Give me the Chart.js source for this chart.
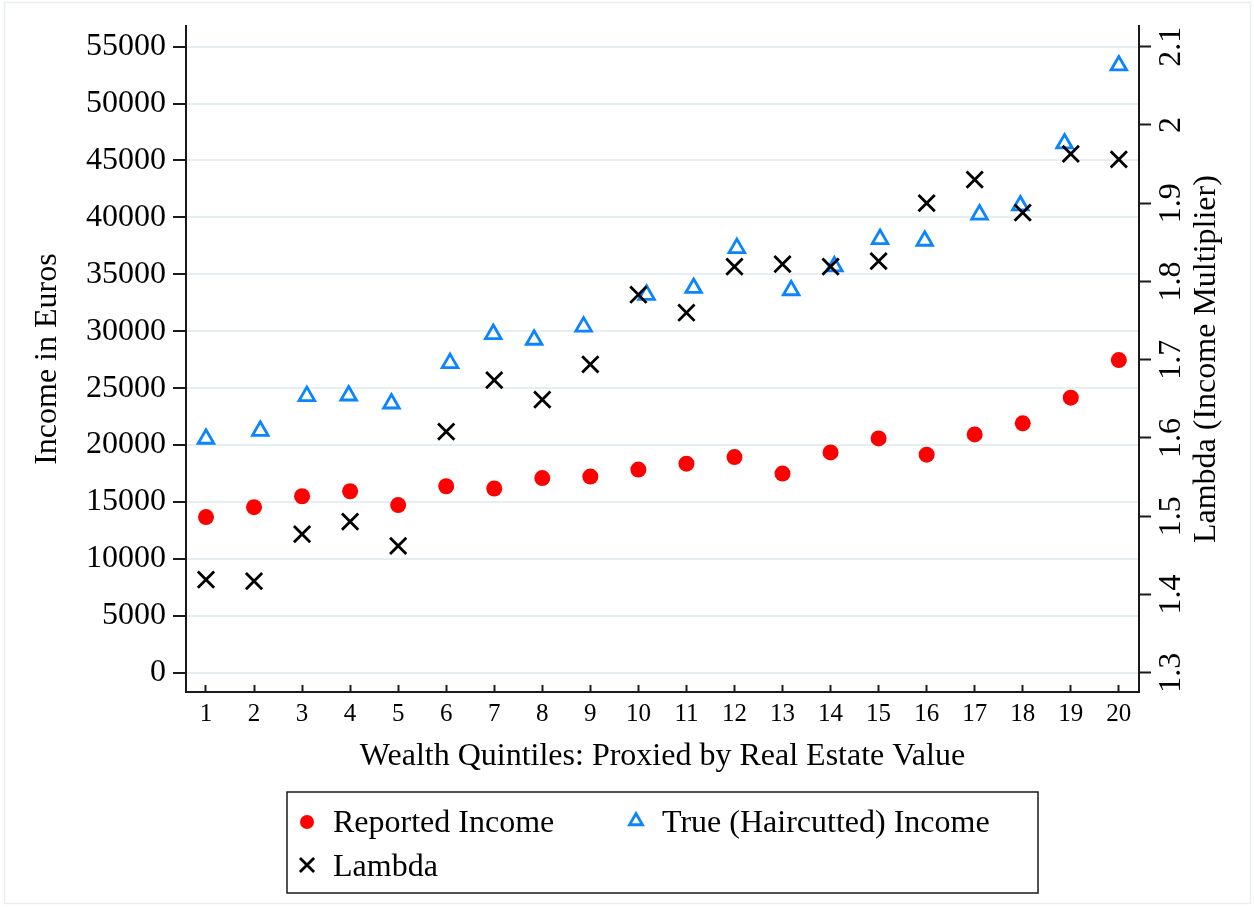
<!DOCTYPE html>
<html>
<head>
<meta charset="utf-8">
<script src="https://cdn.jsdelivr.net/npm/chart.js@4.4.1/dist/chart.umd.min.js"></script>
<style>
  html, body { margin: 0; padding: 0; background: #ffffff; }
  #wrap { width: 1254px; height: 907px; position: relative; }
</style>
</head>
<body>
<div id="wrap"><canvas id="c"></canvas></div>
<script>
// ---------------- data ----------------
const quintiles = [1, 2, 3, 4, 5, 6, 7, 8, 9, 10, 11, 12, 13, 14, 15, 16, 17, 18, 19, 20];
const quintileLabels = ['1','2','3','4','5','6','7','8','9','10','11','12','13','14','15','16','17','18','19','20'];

const reportedIncome = [13670, 14540, 15500, 15940, 14720, 16380, 16180, 17100, 17230, 17840,
                        18360, 18940, 17490, 19350, 20580, 19150, 20930, 21910, 24160, 27460];

const trueIncomeX = [1.00, 2.13, 3.10, 3.97, 4.86, 6.08, 6.98, 7.83, 8.86, 10.17,
                     11.15, 12.05, 13.18, 14.08, 15.03, 15.96, 17.10, 17.95, 18.87, 20.00];
const trueIncome = [20550, 21250, 24300, 24350, 23650, 27200, 29750, 29250, 30400, 33200,
                    33800, 37300, 33600, 35700, 38100, 37950, 40250, 41050, 46500, 53350];

const lambda = [1.419, 1.417, 1.477, 1.493, 1.462, 1.608, 1.674, 1.649, 1.694, 1.783,
                1.760, 1.819, 1.822, 1.819, 1.826, 1.900, 1.930, 1.888, 1.963, 1.956];

const incomeTicks = [0, 5000, 10000, 15000, 20000, 25000, 30000, 35000, 40000, 45000, 50000, 55000];
const incomeTickLabels = ['0','5000','10000','15000','20000','25000','30000','35000','40000','45000','50000','55000'];
const lambdaTicks = [1.3, 1.4, 1.5, 1.6, 1.7, 1.8, 1.9, 2.0, 2.1];
const lambdaTickLabels = ['1.3','1.4','1.5','1.6','1.7','1.8','1.9','2','2.1'];

const seriesNames = ['Reported Income', 'True (Haircutted) Income', 'Lambda'];
const axisTitles = {
  x: 'Wealth Quintiles: Proxied by Real Estate Value',
  y: 'Income in Euros',
  y2: 'Lambda (Income Multiplier)'
};

// ---------------- styling ----------------
const FONT = "'Liberation Serif', 'Times New Roman', serif";
const RED = '#ff0000';
const BLUE = '#0a84ff';
const BLACK = '#000000';
const AXIS = '#1a1a1a';
const GRID = '#e7eef1';

Chart.defaults.font.family = FONT;
Chart.defaults.color = '#000';

const bgPlugin = {
  id: 'bg',
  beforeDraw(chart) {
    const ctx = chart.ctx;
    ctx.save();
    ctx.fillStyle = '#ffffff';
    ctx.fillRect(0, 0, chart.width, chart.height);
    ctx.strokeStyle = '#e9eef1';
    ctx.lineWidth = 1.5;
    ctx.strokeRect(4.5, 2.5, chart.width - 8, chart.height - 6);
    ctx.restore();
  }
};

const extrasPlugin = {
  id: 'extras',
  afterDraw(chart) {
    const ctx = chart.ctx;
    const ca = chart.chartArea;
    // right axis title, reading bottom-to-top
    const s2 = chart.scales.y2;
    ctx.save();
    ctx.font = '32px ' + FONT;
    ctx.fillStyle = '#000';
    ctx.translate(s2.left + 68, (s2.top + s2.bottom) / 2);
    ctx.rotate(-Math.PI / 2);
    ctx.textAlign = 'center';
    ctx.textBaseline = 'middle';
    ctx.fillText(axisTitles.y2, 0, 0);
    ctx.restore();

    // boxed legend below the x axis
    const w = 751, h = 101;
    const x0 = (ca.left + ca.right) / 2 - w / 2;
    const y0 = chart.scales.x.bottom;
    ctx.save();
    ctx.strokeStyle = AXIS;
    ctx.lineWidth = 1.5;
    ctx.strokeRect(x0, y0, w, h);
    const slots = [[x0 + 20, y0 + 30], [x0 + 349, y0 + 29], [x0 + 20, y0 + 73]];
    chart.data.datasets.forEach((ds, i) => {
      const [mx, my] = slots[i];
      ctx.save();
      ctx.fillStyle = ds.pointBackgroundColor;
      ctx.strokeStyle = ds.pointBorderColor;
      ctx.lineWidth = ds.pointBorderWidth;
      Chart.helpers.drawPoint(ctx, {
        pointStyle: ds.pointStyle,
        radius: ds.legendRadius,
        borderWidth: ds.pointBorderWidth,
        rotation: 0
      }, mx, my);
      ctx.restore();
      ctx.font = '32px ' + FONT;
      ctx.fillStyle = '#000';
      ctx.textAlign = 'left';
      ctx.textBaseline = 'middle';
      ctx.fillText(ds.label, x0 + (i === 1 ? 375 : 46), y0 + (i === 2 ? 76 : 32));
    });
    ctx.restore();
  }
};

new Chart(document.getElementById('c'), {
  type: 'scatter',
  data: {
    datasets: [
      {
        label: seriesNames[0],
        data: quintiles.map((q, i) => ({ x: q, y: reportedIncome[i] })),
        yAxisID: 'y',
        pointStyle: 'circle',
        pointRadius: 8,
        legendRadius: 7,
        pointBorderWidth: 0,
        pointBackgroundColor: RED,
        pointBorderColor: RED,
        order: 2
      },
      {
        label: seriesNames[1],
        data: trueIncomeX.map((x, i) => ({ x: x, y: trueIncome[i] })),
        yAxisID: 'y',
        pointStyle: 'triangle',
        pointRadius: 9,
        legendRadius: 7.5,
        pointBorderWidth: 2.8,
        pointBackgroundColor: 'rgba(0,0,0,0)',
        pointBorderColor: BLUE,
        order: 1
      },
      {
        label: seriesNames[2],
        data: quintiles.map((q, i) => ({ x: q, y: lambda[i] })),
        yAxisID: 'y2',
        pointStyle: 'crossRot',
        pointRadius: 11.5,
        legendRadius: 10,
        pointBorderWidth: 2.8,
        pointBackgroundColor: 'rgba(0,0,0,0)',
        pointBorderColor: BLACK,
        order: 0
      }
    ]
  },
  options: {
    responsive: true,
    maintainAspectRatio: false,
    animation: false,
    events: [],
    layout: { padding: { top: 23, left: 0, right: 0, bottom: 115 } },
    plugins: {
      legend: { display: false },
      tooltip: { enabled: false },
      title: { display: false }
    },
    scales: {
      x: {
        type: 'linear',
        position: 'bottom',
        min: 0.584,
        max: 20.42,
        afterBuildTicks: (s) => { s.ticks = quintiles.map(v => ({ value: v })); },
        afterFit: (s) => { s.height = 100; },
        ticks: {
          autoSkip: false,
          maxRotation: 0,
          minRotation: 0,
          padding: 14,
          font: { size: 25 },
          color: '#000',
          callback: (v, i) => quintileLabels[i]
        },
        grid: {
          drawOnChartArea: false,
          drawTicks: true,
          tickLength: -7,
          tickColor: AXIS,
          tickWidth: 2
        },
        border: { display: true, color: AXIS, width: 2 },
        title: {
          display: true,
          text: axisTitles.x,
          font: { size: 32 },
          color: '#000',
          padding: { top: 0, bottom: 16 }
        }
      },
      y: {
        type: 'linear',
        position: 'left',
        min: -1700,
        max: 56800,
        afterBuildTicks: (s) => { s.ticks = incomeTicks.map(v => ({ value: v })); },
        afterFit: (s) => { s.width = 186; },
        ticks: {
          padding: 7,
          font: { size: 32 },
          color: '#000',
          callback: (v, i) => incomeTickLabels[i]
        },
        grid: {
          drawOnChartArea: true,
          color: GRID,
          lineWidth: 2,
          drawTicks: true,
          tickLength: 13,
          tickColor: AXIS,
          tickWidth: 2
        },
        border: { display: true, color: AXIS, width: 2 },
        title: {
          display: true,
          text: axisTitles.y,
          font: { size: 32 },
          color: '#000',
          padding: { top: 28, bottom: 0 }
        }
      },
      y2: {
        type: 'linear',
        position: 'right',
        min: 1.2753,
        max: 2.1262,
        afterBuildTicks: (s) => { s.ticks = lambdaTicks.map(v => ({ value: v })); },
        afterFit: (s) => { s.width = 115; },
        ticks: {
          minRotation: 90,
          maxRotation: 90,
          crossAlign: 'center',
          padding: 1,
          font: { size: 32 },
          color: '#000',
          callback: (v, i) => lambdaTickLabels[i]
        },
        grid: {
          drawOnChartArea: false,
          drawTicks: true,
          tickLength: 12,
          tickColor: AXIS,
          tickWidth: 2
        },
        border: { display: true, color: AXIS, width: 2 },
        title: { display: false, text: axisTitles.y2 }
      }
    }
  },
  plugins: [bgPlugin, extrasPlugin]
});
</script>
</body>
</html>
